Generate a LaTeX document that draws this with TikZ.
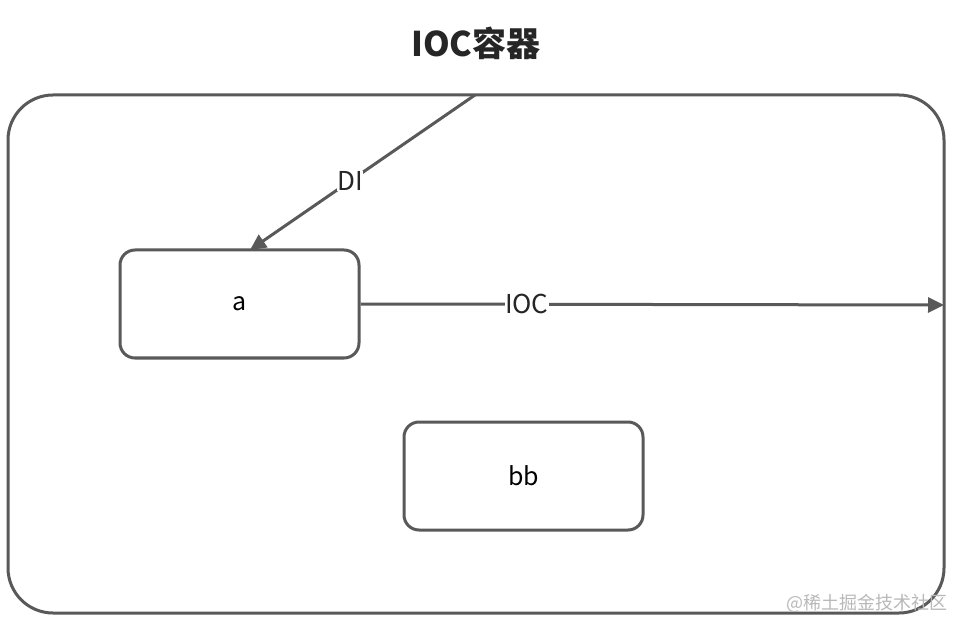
\documentclass[tikz,border=0pt]{standalone}
\usepackage{fontspec}
\setmainfont{Noto Sans CJK SC}
\usetikzlibrary{arrows.meta}
\definecolor{ln}{HTML}{595959}
\definecolor{wm}{HTML}{B8B8B8}
\begin{document}
\begin{tikzpicture}[x=1pt,y=-1pt,
  box/.style={draw=ln,line width=3pt,rounded corners=15pt,minimum width=239pt,minimum height=108pt,inner sep=0pt},
  conn/.style={draw=ln,line width=3pt,-{Triangle[length=16pt,width=15pt]}},
  lbl/.style={fill=white,inner sep=0.5pt,font=\fontsize{26}{28}\selectfont,text=black!85}]
\useasboundingbox (0,0) rectangle (956,620);
\node[font=\fontsize{34}{38}\selectfont\bfseries,text=black!85] (title) at (476,43) {IOC容器};
\draw[ln,line width=3pt,rounded corners=45pt] (8,95) rectangle (944,613);
\coordinate (top) at (475,95);
\coordinate (right) at (944,305);
\node[box,font=\fontsize{25}{28}\selectfont] (a) at (239.5,304) {a};
\node[box,font=\fontsize{25}{28}\selectfont] (bb) at (523.5,476) {bb};
\coordinate (atop) at (250,250);
\draw[conn] (top) -- node[lbl,pos=0.555] (di) {DI} (atop);
\draw[conn] (a.east) -- node[lbl,pos=0.285] (ioc) {IOC} (right);
\node[text=wm,font=\fontsize{18}{20}\selectfont,anchor=east] (wmk) at (951,603) {@稀土掘金技术社区};
\end{tikzpicture}
\end{document}
